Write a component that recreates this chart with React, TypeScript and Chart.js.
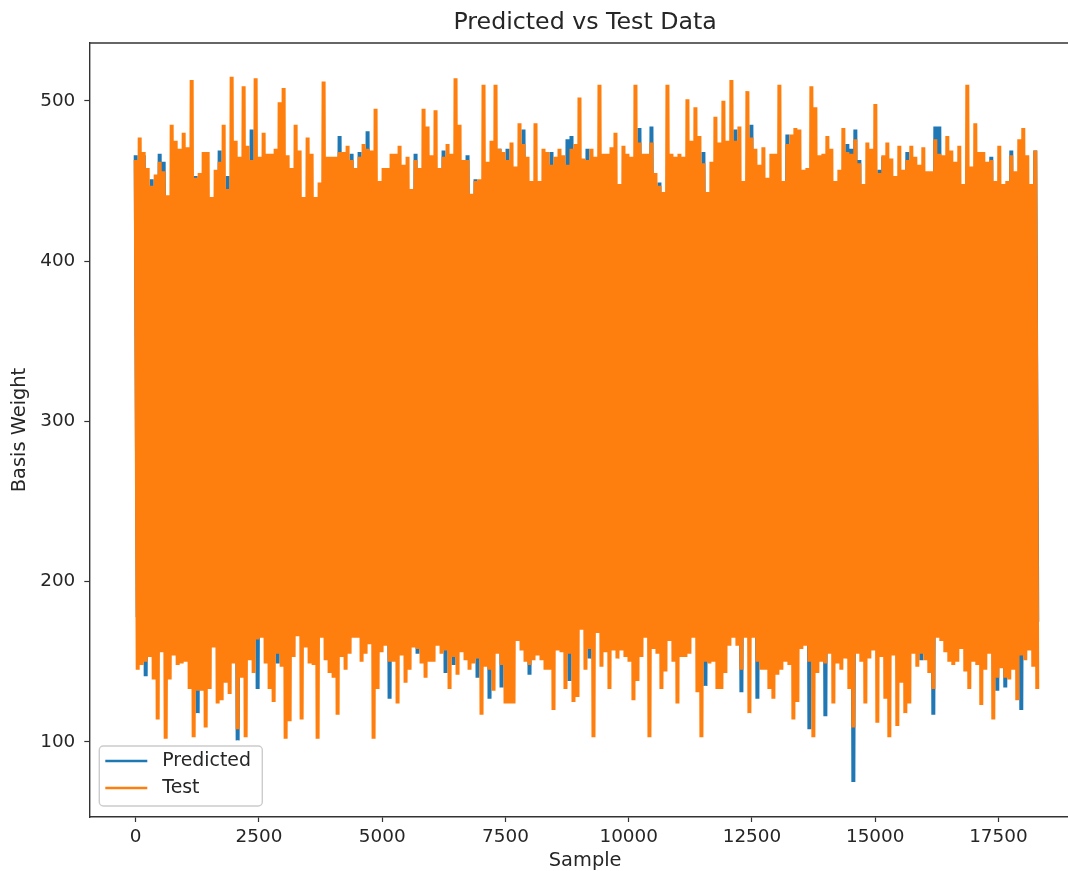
import React, { useEffect, useRef } from "react";
import { Chart, registerables } from "chart.js";

Chart.register(...registerables);

const chartTitle = "Predicted vs Test Data";
const xAxisLabel = "Sample";
const yAxisLabel = "Basis Weight";
const sampleStep = 81.1;
const xTickValues = [0, 2500, 5000, 7500, 10000, 12500, 15000, 17500];
const yTickValues = [100, 200, 300, 400, 500];

const testHigh = [
  463,477,468,458,447,454,462,456,441,485,
  475,470,480,471,513,452,455,468,468,440,
  457,462,485,445,515,475,465,509,472,463,
  514,465,480,467,467,470,499,508,466,458,
  485,469,440,477,467,440,449,512,465,465,
  465,468,468,472,463,458,465,473,470,469,
  495,450,458,458,467,467,472,460,465,445,
  463,458,495,484,466,494,458,465,473,467,
  514,485,463,463,442,450,451,510,462,475,
  510,470,468,463,474,459,486,473,465,450,
  486,450,470,468,460,465,470,466,460,470,
  473,502,464,463,470,465,510,467,467,471,
  480,448,472,467,465,510,474,467,467,474,
  455,447,443,510,467,465,467,465,501,475,
  496,478,461,443,462,490,474,500,475,513,
  475,484,450,506,477,470,460,471,452,467,
  467,510,450,473,479,483,482,457,458,509,
  496,466,467,478,470,450,457,483,468,467,
  476,461,448,474,470,498,455,466,474,464,
  453,472,457,463,472,465,460,471,456,456,
  476,467,466,478,469,462,472,448,510,459,
  486,468,468,462,463,450,472,448,450,466,
  456,476,483,466,448,469,
];

const testLow = [
  145,148,150,153,139,114,156,102,139,154,
  148,149,150,133,103,132,132,109,133,159,
  124,126,137,130,149,108,140,103,151,143,
  164,165,149,133,125,155,147,102,113,153,
  166,114,159,149,148,102,165,151,143,140,
  117,153,145,155,165,165,150,155,161,102,
  133,156,160,150,150,124,154,137,145,159,
  158,149,140,150,150,160,155,157,133,153,
  142,156,151,145,149,152,117,147,145,132,
  155,148,124,124,124,163,157,150,148,151,
  154,151,145,145,120,157,156,133,155,125,
  128,170,145,158,103,168,147,156,133,157,
  152,157,153,150,126,138,153,165,103,158,
  155,133,144,163,150,124,153,153,155,165,
  131,103,150,149,150,133,133,143,160,165,
  160,145,165,118,165,150,145,145,133,127,
  142,145,150,148,114,125,158,160,150,103,
  143,150,149,155,124,149,145,152,133,109,
  155,150,124,152,157,112,153,127,103,154,
  110,137,118,124,155,147,155,151,143,133,
  165,163,156,150,148,150,158,144,133,150,
  148,123,145,155,114,140,146,140,139,145,
  126,154,151,157,147,133,
];

const predictedHigh = [
  466,432,466,436,451,431,467,462,430,437,
  434,438,433,436,431,453,435,438,432,429,
  436,469,433,453,437,431,435,430,438,482,
  434,432,437,431,436,433,438,430,435,432,
  437,433,431,438,434,430,436,432,437,433,
  435,478,431,436,467,433,468,437,481,432,
  436,431,434,438,430,433,437,432,435,431,
  467,434,438,430,436,432,433,469,437,431,
  435,433,438,466,430,451,434,436,432,437,
  431,470,435,470,433,438,430,482,436,432,
  434,431,437,433,468,435,430,438,476,478,
  432,436,431,470,434,438,430,437,433,435,
  431,436,432,438,434,430,483,437,433,484,
  435,449,431,437,433,436,430,438,432,434,
  436,431,468,433,438,430,437,432,435,431,
  482,434,438,430,485,436,432,437,431,435,
  433,438,430,479,434,436,431,437,433,435,
  430,438,432,436,434,431,437,433,473,470,
  482,463,435,431,438,433,457,465,432,436,
  430,437,434,468,431,435,457,433,438,430,
  484,484,436,432,437,431,435,433,438,430,
  434,436,432,437,465,431,435,433,438,469,
  430,436,432,437,434,469,
];

const predictedLow = [
  178,182,141,175,180,184,177,181,174,183,
  179,176,185,173,181,118,178,183,175,180,
  184,177,182,174,179,101,186,176,181,178,
  133,183,175,180,177,149,182,174,185,179,
  176,181,173,184,178,182,175,180,177,183,
  179,174,181,176,185,178,183,175,180,177,
  182,174,179,127,184,176,181,178,173,183,
  155,180,177,182,175,184,179,143,176,148,
  181,178,183,174,180,140,177,182,127,179,
  175,134,184,176,181,178,173,183,142,180,
  177,182,175,179,184,176,181,178,138,174,
  183,180,177,152,182,175,179,184,176,181,
  178,173,183,180,177,182,175,184,179,176,
  181,178,183,174,180,177,182,175,179,184,
  176,181,135,178,173,183,180,177,182,175,
  179,131,184,176,181,127,178,183,174,180,
  177,182,175,179,184,176,181,178,108,173,
  183,180,116,177,182,175,179,184,176,75,
  181,178,183,174,180,177,182,175,179,184,
  176,181,178,173,183,180,151,177,182,117,
  179,175,184,176,181,178,183,174,180,177,
  182,175,179,184,176,132,181,134,178,183,
  174,120,180,177,182,175,
];

const BLUE = "#1f77b4";
const ORANGE = "#ff7f0e";
const INK = "#262626";
const SPINE = "#333333";
const FONT = "'DejaVu Sans'";
const TICK_FONT_SIZE = 18.4;
const LABEL_FONT_SIZE = 19.4;
const LEGEND_FONT_SIZE = 18.9;

function trace(high: number[], low: number[]) {
  const pts: { x: number; y: number }[] = [];
  high.forEach((h, i) => {
    pts.push({ x: i * sampleStep, y: h });
    pts.push({ x: (i + 0.5) * sampleStep, y: low[i] });
  });
  return pts;
}

const framePlugin = {
  id: "frame",
  afterDraw(chart: any) {
    const { ctx, chartArea: a } = chart;
    ctx.save();
    ctx.strokeStyle = SPINE;
    ctx.lineWidth = 1.4;
    ctx.beginPath();
    ctx.moveTo(a.left, a.top);
    ctx.lineTo(a.right, a.top);
    ctx.stroke();

    const x = a.left + 10;
    const y = a.bottom - 71;
    const w = 163;
    const h = 60;
    ctx.fillStyle = "rgba(255,255,255,0.8)";
    ctx.strokeStyle = "#cccccc";
    ctx.lineWidth = 1.4;
    ctx.beginPath();
    ctx.roundRect(x, y, w, h, 4);
    ctx.fill();
    ctx.stroke();

    chart.data.datasets.forEach((d: any, i: number) => {
      const cy = y + 15 + i * 27;
      ctx.strokeStyle = d.borderColor;
      ctx.lineWidth = 2.4;
      ctx.beginPath();
      ctx.moveTo(x + 6, cy);
      ctx.lineTo(x + 48, cy);
      ctx.stroke();
      ctx.fillStyle = INK;
      ctx.font = `${LEGEND_FONT_SIZE}px ${FONT}`;
      ctx.textBaseline = "middle";
      ctx.textAlign = "left";
      ctx.fillText(d.label, x + 63, cy);
    });
    ctx.restore();
  },
};

export default function App() {
  const ref = useRef<HTMLCanvasElement>(null);
  useEffect(() => {
    const chart = new Chart(ref.current as HTMLCanvasElement, {
      type: "line",
      data: {
        datasets: [
          {
            label: "Predicted",
            data: trace(predictedHigh, predictedLow),
            borderColor: BLUE,
            borderWidth: 4,
            pointRadius: 0,
            tension: 0,
            order: 2,
          },
          {
            label: "Test",
            data: trace(testHigh, testLow),
            borderColor: ORANGE,
            borderWidth: 4,
            pointRadius: 0,
            tension: 0,
            order: 1,
          },
        ],
      },
      options: {
        responsive: false,
        animation: false,
        layout: { padding: 0 },
        plugins: {
          legend: { display: false },
          tooltip: { enabled: false },
          title: {
            display: true,
            text: chartTitle,
            color: INK,
            fullSize: false,
            font: { family: FONT, size: 23.7, weight: "normal" },
            padding: { top: 9, bottom: 5.6 },
          },
        },
        scales: {
          x: {
            type: "linear",
            min: -941,
            max: 19175,
            afterBuildTicks(s: any) {
              s.ticks = xTickValues.map((value) => ({ value }));
            },
            afterFit(s: any) {
              s.height = 54;
            },
            border: { color: SPINE, width: 1.4 },
            grid: { drawOnChartArea: false, drawTicks: true, tickLength: 5, color: SPINE, tickWidth: 1.2 },
            ticks: {
              maxRotation: 0,
              autoSkip: false,
              padding: 4,
              color: INK,
              font: { family: FONT, size: TICK_FONT_SIZE },
              callback: (v: any) => String(v),
            },
            title: {
              display: true,
              text: xAxisLabel,
              color: INK,
              font: { family: FONT, size: LABEL_FONT_SIZE, lineHeight: 1 },
              padding: { top: 0, bottom: 0 },
            },
          },
          y: {
            type: "linear",
            min: 53.2,
            max: 536,
            afterBuildTicks(s: any) {
              s.ticks = yTickValues.map((value) => ({ value }));
            },
            afterFit(s: any) {
              s.width = 89.3;
            },
            border: { color: SPINE, width: 1.4 },
            grid: { drawOnChartArea: false, drawTicks: true, tickLength: 5, color: SPINE, tickWidth: 1.2 },
            ticks: {
              padding: 9,
              color: INK,
              font: { family: FONT, size: TICK_FONT_SIZE },
              callback: (v: any) => String(v),
            },
            title: {
              display: true,
              text: yAxisLabel,
              color: INK,
              font: { family: FONT, size: LABEL_FONT_SIZE, lineHeight: 1 },
              padding: { top: 10.3, bottom: 0 },
            },
          },
        },
      } as any,
      plugins: [framePlugin],
    });
    return () => chart.destroy();
  }, []);

  return (
    <div style={{ position: "fixed", left: 0, top: 0, width: 1068, height: 871, overflow: "hidden", background: "#fff" }}>
      <canvas ref={ref} width={1081} height={871} style={{ display: "block", filter: "blur(0.5px)" }} />
    </div>
  );
}
